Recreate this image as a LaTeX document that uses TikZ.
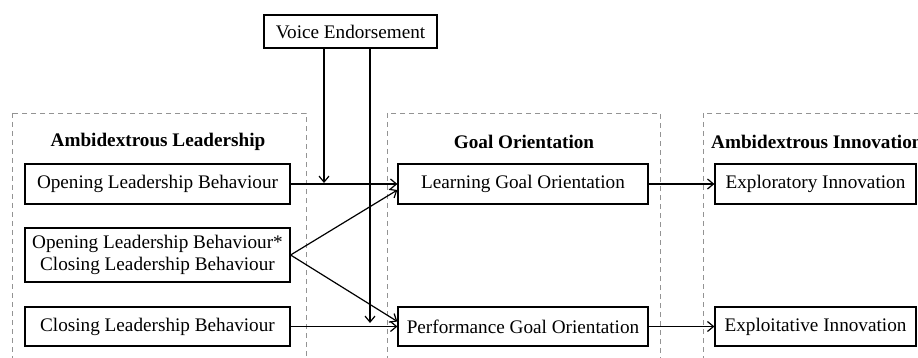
\documentclass[tikz,border=0pt]{standalone}
\usepackage{fontspec}
\setmainfont{Liberation Serif}
\usetikzlibrary{arrows.meta}
\begin{document}
\begin{tikzpicture}[x=1pt,y=-1pt,
  box/.style={draw, line width=1.2pt, inner sep=0pt, align=center,
    font=\fontsize{19.2}{22}\selectfont},
  group/.style={draw=gray!85, line width=0.9pt, dash pattern=on 5pt off 4pt},
  head/.style={font=\fontsize{19.2}{22}\selectfont\bfseries, inner sep=0pt},
  arr/.style={-{Straight Barb[length=6pt,width=10pt,line width=1.2pt]}, line width=1.2pt}
]
\useasboundingbox (0,0) rectangle (918,358);
\begin{scope}
  \clip (0,0) rectangle (918,358);
  % dashed group frames
  \draw[group] (12,113) rectangle (306,380);
  \draw[group] (387,113) rectangle (660,380);
  \draw[group] (703,113) rectangle (940,380);
  % group headings
  \node[head] (hL) at (158,142) {Ambidextrous Leadership};
  \node[head] (hG) at (524,142) {Goal Orientation};
  \node[head, anchor=west] (hI) at (711,142) {Ambidextrous Innovation};
  % boxes
  \node[box, minimum width=265pt, minimum height=40pt] (olb) at (157.5,184) {Opening Leadership Behaviour};
  \node[box, minimum width=265pt, minimum height=54pt] (int) at (157.5,255) {Opening Leadership Behaviour*\\Closing Leadership Behaviour};
  \node[box, minimum width=265pt, minimum height=39pt] (clb) at (157.5,326.5) {Closing Leadership Behaviour};
  \node[box, minimum width=250pt, minimum height=40pt] (lgo) at (523,184) {Learning Goal Orientation};
  \node[box, minimum width=250pt, minimum height=39pt] (pgo) at (523,326.5) {Performance Goal Orientation};
  \node[box, minimum width=201pt, minimum height=40pt] (exr) at (815.5,184) {Exploratory Innovation};
  \node[box, minimum width=201pt, minimum height=39pt] (ext) at (815.5,326.5) {Exploitative Innovation};
  \node[box, minimum width=173pt, minimum height=33pt] (ve) at (350.5,31.5) {Voice Endorsement};
  % moderator targets
  \coordinate (m1) at (324,183);
  \coordinate (m2) at (370,323);
  % connectors
  \draw[arr] (olb.east) -- (lgo.west);
  \draw[arr] (clb.east) -- (pgo.west);
  \draw[arr] (int.east) -- ([yshift=-6pt]lgo.west);
  \draw[arr] (int.east) -- ([yshift=5pt]pgo.west);
  \draw[arr] (lgo.east) -- (exr.west);
  \draw[arr] (pgo.east) -- (ext.west);
  \draw[arr] (ve.south -| m1) -- (m1);
  \draw[arr] (ve.south -| m2) -- (m2);
\end{scope}
\end{tikzpicture}
\end{document}
